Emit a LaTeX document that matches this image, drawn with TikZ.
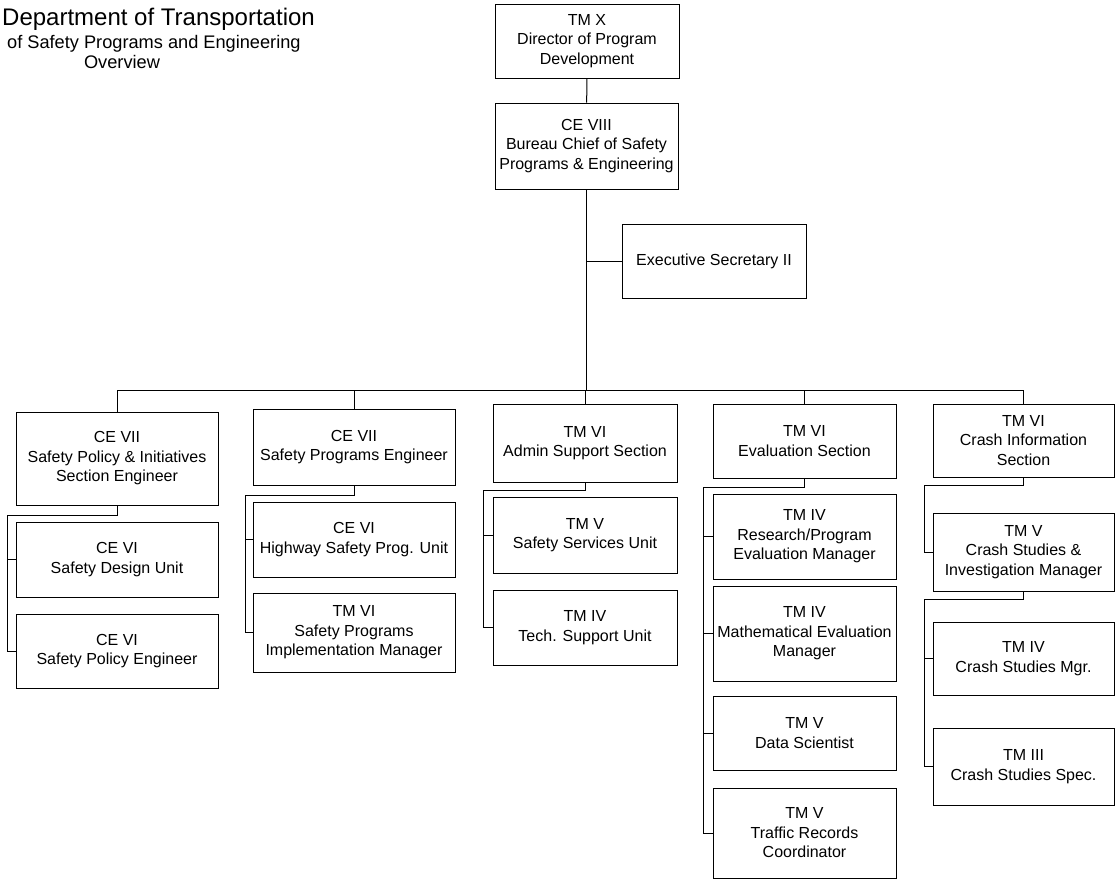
\documentclass[tikz,border=0pt]{standalone}
\usepackage{fontspec}
\setmainfont{Liberation Sans}
\usetikzlibrary{positioning}

\begin{document}
\begin{tikzpicture}[
  x=1pt, y=-1pt,
  box/.style 2 args = {draw, line width=1pt, align=center, inner sep=2pt,
    minimum width=#1pt, minimum height=#2pt,
    font=\fontsize{16}{19.5}\selectfont},
  link/.style = {draw, line width=1pt}
]
  \useasboundingbox (0,0) rectangle (1115,881);

  % heading
  \node[anchor=base west, inner sep=0, font=\fontsize{24}{28}\selectfont] (title) at (2,25) {Department of Transportation};
  \node[anchor=base west, inner sep=0, font=\fontsize{18.2}{22}\selectfont] (subtitle) at (7,48) {of Safety Programs and Engineering};
  \node[anchor=base, inner sep=0, font=\fontsize{18.2}{22}\selectfont] (overview) at (122,68) {Overview};

  % top of the chart
  \node[box={184}{74}] (tmx) at (587,41) {TM X\\Director of Program\\Development};
  \node[box={183}{86}] (ce8) at (586.5,146) {CE VIII\\Bureau Chief of Safety\\Programs \& Engineering};
  \node[box={184}{74}] (exec) at (714,261) {Executive Secretary II};

  % sections
  \node[box={202}{93}] (ce7pol) at (117,458.5) {CE VII\\Safety Policy \& Initiatives\\Section Engineer};
  \node[box={202}{76}] (ce7prg) at (354,447) {CE VII\\Safety Programs Engineer};
  \node[box={184}{78}] (admin) at (585,443) {TM VI\\Admin Support Section};
  \node[box={183}{74}] (evalsec) at (804.5,441) {TM VI\\Evaluation Section};
  \node[box={181}{73}] (crashinfo) at (1023.5,440.5) {TM VI\\Crash Information\\Section};

  % units
  \node[box={202}{75}] (dsgn) at (117,559.5) {CE VI\\Safety Design Unit};
  \node[box={202}{74}] (poleng) at (117,651) {CE VI\\Safety Policy Engineer};

  \node[box={202}{75}] (hwy) at (354,539.5) {CE VI\\Highway Safety Prog. Unit};
  \node[box={202}{79}] (impl) at (354,632.5) {TM VI\\Safety Programs\\Implementation Manager};

  \node[box={184}{76}] (safsvc) at (585,535) {TM V\\Safety Services Unit};
  \node[box={184}{75}] (tech) at (585,627.5) {TM IV\\Tech. Support Unit};

  \node[box={183}{85}] (resrch) at (804.5,536.5) {TM IV\\Research/Program\\Evaluation Manager};
  \node[box={183}{95}] (matheval) at (804.5,633.5) {TM IV\\Mathematical Evaluation\\Manager};
  \node[box={183}{74}] (datasci) at (804.5,733) {TM V\\Data Scientist};
  \node[box={183}{90}] (traffic) at (804.5,833) {TM V\\Traffic Records\\Coordinator};

  \node[box={181}{78}] (crashinv) at (1023.5,552) {TM V\\Crash Studies \&\\Investigation Manager};
  \node[box={181}{73}] (crashmgr) at (1023.5,658.5) {TM IV\\Crash Studies Mgr.};
  \node[box={181}{77}] (crashspec) at (1023.5,766.5) {TM III\\Crash Studies Spec.};

  % connectors
  \draw[link] (tmx) -- (ce8);
  \coordinate (bus) at (586.5,390);
  \draw[link] (ce8) -- (bus);
  \draw[link] (ce8.south |- exec.west) -- (exec.west);
  \foreach \n in {ce7pol,ce7prg,admin,evalsec,crashinfo}
    \draw[link] (bus) -| (\n.north);

  \coordinate (rail1) at (7,515);
  \draw[link] (ce7pol.south) |- (rail1);
  \foreach \n in {dsgn,poleng}
    \draw[link] (rail1) |- (\n.west);

  \coordinate (rail2) at (245,495);
  \draw[link] (ce7prg.south) |- (rail2);
  \foreach \n in {hwy,impl}
    \draw[link] (rail2) |- (\n.west);

  \coordinate (rail3) at (483,490);
  \draw[link] (admin.south) |- (rail3);
  \foreach \n in {safsvc,tech}
    \draw[link] (rail3) |- (\n.west);

  \coordinate (rail4) at (703,487);
  \draw[link] (evalsec.south) |- (rail4);
  \foreach \n in {resrch,matheval,datasci,traffic}
    \draw[link] (rail4) |- (\n.west);

  \coordinate (rail5) at (924,485);
  \draw[link] (crashinfo.south) |- (rail5) |- (crashinv.west);
  \coordinate (rail6) at (924,599);
  \draw[link] (crashinv.south) |- (rail6);
  \foreach \n in {crashmgr,crashspec}
    \draw[link] (rail6) |- (\n.west);
\end{tikzpicture}
\end{document}
